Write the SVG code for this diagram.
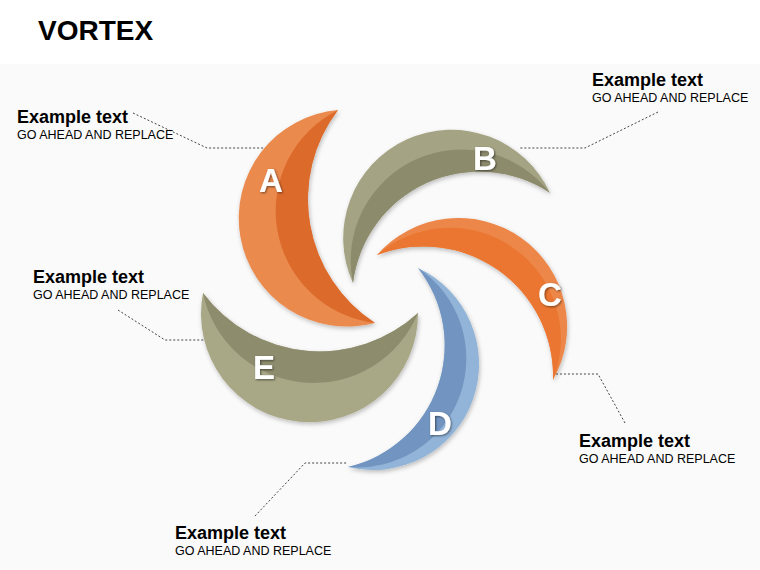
<svg xmlns="http://www.w3.org/2000/svg" width="760" height="570" viewBox="0 0 760 570">
<defs>
<style>
.t{font-family:"Liberation Sans",Arial,sans-serif;font-weight:bold;font-size:18px;fill:#000}
.s{font-family:"Liberation Sans",Arial,sans-serif;font-size:12.5px;fill:#000}
.L{font-family:"Liberation Sans",Arial,sans-serif;font-weight:bold;font-size:33px;fill:#fff;text-anchor:middle;filter:url(#sh)}
.ld{fill:none;stroke:#444;stroke-width:1;stroke-dasharray:2,2}
</style>
<filter id="sh" x="-20%" y="-20%" width="150%" height="150%"><feDropShadow dx="1" dy="1" stdDeviation="1" flood-color="#000" flood-opacity="0.5"/></filter>
<filter id="gs" x="-10%" y="-10%" width="120%" height="120%"><feDropShadow dx="1" dy="2" stdDeviation="2" flood-color="#000" flood-opacity="0.25"/></filter>
</defs>
<rect width="760" height="570" fill="#fafafa"/>
<rect width="760" height="64" fill="#fff"/>
<text x="38" y="40" font-family="Liberation Sans,Arial,sans-serif" font-weight="bold" font-size="28">VORTEX</text>
<g id="connectors">
<polyline class="ld" points="133,113 207,148 268,148"/>
<polyline class="ld" points="658,112 585,148 520,148"/>
<polyline class="ld" points="625,423 598,374 553,374"/>
<polyline class="ld" points="255,516 305,463 347,463"/>
<polyline class="ld" points="118,310 165,340 205,340"/>
</g>
<g id="A" filter="url(#gs)">
<path d="M338,110 A108.5,108.5 0 1 0 375,323 A147.6,147.6 0 0 1 338,110Z" fill="#ea8a4e"/>
<path d="M338,110 A112.9,112.9 0 0 0 375,323 A147.6,147.6 0 0 1 338,110Z" fill="#dc6a2c"/>
<text class="L" x="271" y="192">A</text>
</g>
<g id="B" filter="url(#gs)">
<path d="M353,283 A108.2,108.2 0 0 1 550,193 A127.2,127.2 0 0 0 353,283Z" fill="#a4a383"/>
<path d="M353,283 A111.1,111.1 0 0 1 550,193 A127.2,127.2 0 0 0 353,283Z" fill="#8c8b6c"/>
<text class="L" x="485" y="170">B</text>
</g>
<g id="C" filter="url(#gs)">
<path d="M377,255 A108.5,108.5 0 0 1 553,380 A129.6,129.6 0 0 0 377,255Z" fill="#ec8749"/>
<path d="M377,255 A111.1,111.1 0 0 1 553,380 A129.6,129.6 0 0 0 377,255Z" fill="#ea7630"/>
<text class="L" x="550" y="306">C</text>
</g>
<g id="D" filter="url(#gs)">
<path d="M418,268 A106,106 0 0 1 348,467 A125,125 0 0 0 418,268Z" fill="#92b4d8"/>
<path d="M418,268 A108.9,108.9 0 0 1 348,467 A125,125 0 0 0 418,268Z" fill="#7195c0"/>
<text class="L" x="440" y="435">D</text>
</g>
<g id="E" filter="url(#gs)">
<path d="M203,293 A108.5,108.5 0 1 0 418,313 A145.5,145.5 0 0 1 203,293Z" fill="#a8a786"/>
<path d="M203,293 A112.9,112.9 0 0 0 418,313 A145.5,145.5 0 0 1 203,293Z" fill="#8d8c6d"/>
<text class="L" x="264" y="379">E</text>
</g>
<g id="labelA"><text class="t" x="17" y="123">Example text</text><text class="s" x="17" y="139">GO AHEAD AND REPLACE</text></g>
<g id="labelB"><text class="t" x="592" y="86">Example text</text><text class="s" x="592" y="102">GO AHEAD AND REPLACE</text></g>
<g id="labelC"><text class="t" x="579" y="447">Example text</text><text class="s" x="579" y="463">GO AHEAD AND REPLACE</text></g>
<g id="labelD"><text class="t" x="175" y="539">Example text</text><text class="s" x="175" y="555">GO AHEAD AND REPLACE</text></g>
<g id="labelE"><text class="t" x="33" y="283">Example text</text><text class="s" x="33" y="299">GO AHEAD AND REPLACE</text></g>
</svg>
